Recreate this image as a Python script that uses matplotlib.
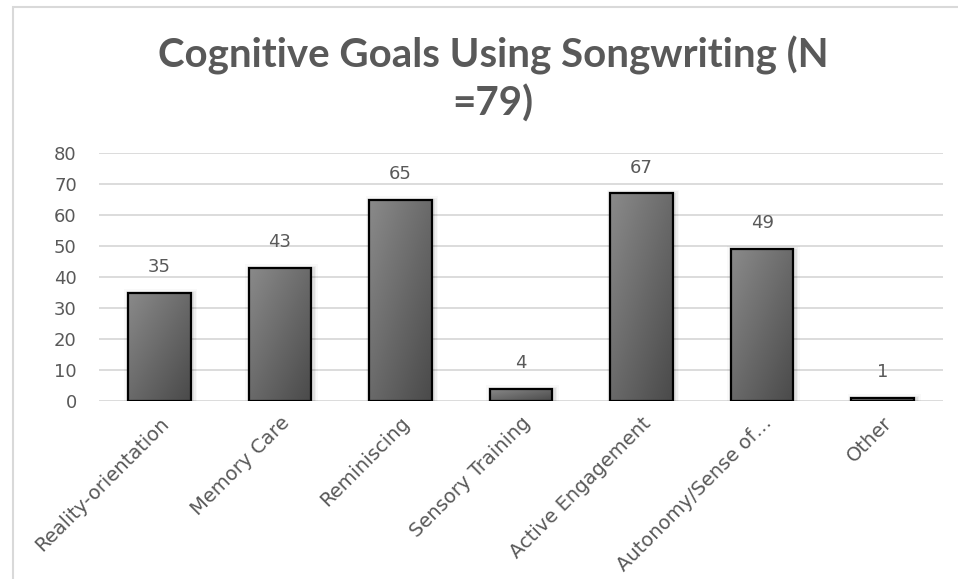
import numpy as np
import matplotlib
matplotlib.use("Agg")
import matplotlib.pyplot as plt
from matplotlib.patches import Rectangle
from matplotlib.colors import LinearSegmentedColormap

categories = ["Reality-orientation", "Memory Care", "Reminiscing", "Sensory Training",
              "Active Engagement", "Autonomy/Sense of\u2026", "Other"]
counts = [35, 43, 65, 4, 67, 49, 1]
y_ticks = [0, 10, 20, 30, 40, 50, 60, 70, 80]
title = "Cognitive Goals Using Songwriting (N\n=79)"

TEXT = "#595959"
GRID = "#d9d9d9"
BODY_FONT = "DejaVu Sans"
TITLE_FONT = "Lato"

W, H = 958, 579
fig = plt.figure(figsize=(W / 100, H / 100), dpi=100)
ax = fig.add_axes([99 / W, 1 - 401 / H, (943 - 99) / W, (401 - 153) / H])

x = np.arange(len(categories))
bar_w = 0.52
ax.set_xlim(-0.5, len(categories) - 0.5)
ax.set_ylim(0, 80)

# soft shadow behind each bar
px_x = 1 / 120.6
px_y = 80 / 248
for xi, v in zip(x, counts):
    for d, a in [(5, 0.025), (3.5, 0.04), (2, 0.06)]:
        ax.add_patch(Rectangle((xi - bar_w / 2 - d * px_x + 1.5 * px_x, 0),
                               bar_w + 2 * d * px_x, v + d * px_y - 1.5 * px_y,
                               facecolor="#000000", edgecolor="none", alpha=a, zorder=2))

bars = ax.bar(x, counts, width=bar_w, facecolor="none", edgecolor="#000000",
              linewidth=1.6, zorder=4)

# diagonal gray gradient fill clipped to each bar
cmap = LinearSegmentedColormap.from_list("bargrad", ["#8a8a8a", "#4a4a4a"])
n = 64
ii, jj = np.mgrid[0:n, 0:n]
grad = (ii + jj) / (2 * (n - 1))
for b in bars:
    x0, y0 = b.get_x(), b.get_y()
    w, h = b.get_width(), b.get_height()
    im = ax.imshow(grad, cmap=cmap, vmin=0, vmax=1, extent=(x0, x0 + w, y0, y0 + h),
                   origin="upper", aspect="auto", zorder=3, interpolation="bilinear")
    im.set_clip_path(b)
ax.set_xlim(-0.5, len(categories) - 0.5)
ax.set_ylim(0, 80)

# value labels
for xi, v in zip(x, counts):
    ax.annotate(str(v), (xi, v), xytext=(0, 12), textcoords="offset points",
                ha="center", va="bottom", fontsize=13, color=TEXT, family=BODY_FONT)

ax.set_yticks(y_ticks)
ax.set_yticklabels([str(t) for t in y_ticks], fontsize=13, color=TEXT, family=BODY_FONT)
ax.yaxis.grid(True, color=GRID, linewidth=1.3, zorder=0)
ax.set_axisbelow(True)
ax.tick_params(axis="y", length=0, pad=16)
ax.tick_params(axis="x", length=0, pad=9)
ax.set_xticks(x)
ax.set_xticklabels(categories, rotation=45, ha="right", rotation_mode="anchor",
                   fontsize=14, color=TEXT, family=BODY_FONT)
for s in ax.spines.values():
    s.set_visible(False)

fig.text(493 / W, 1 - 79 / H, title, ha="center", va="center", fontsize=29,
         fontweight="bold", color=TEXT, family=TITLE_FONT, linespacing=1.3)

# chart area border
fig.add_artist(Rectangle((12.5 / W, -0.05), 1.0, 1.05 - 6.5 / H, transform=fig.transFigure,
                         fill=False, edgecolor=GRID, linewidth=1.5))

fig.savefig("out.png", dpi=100, facecolor="white")
